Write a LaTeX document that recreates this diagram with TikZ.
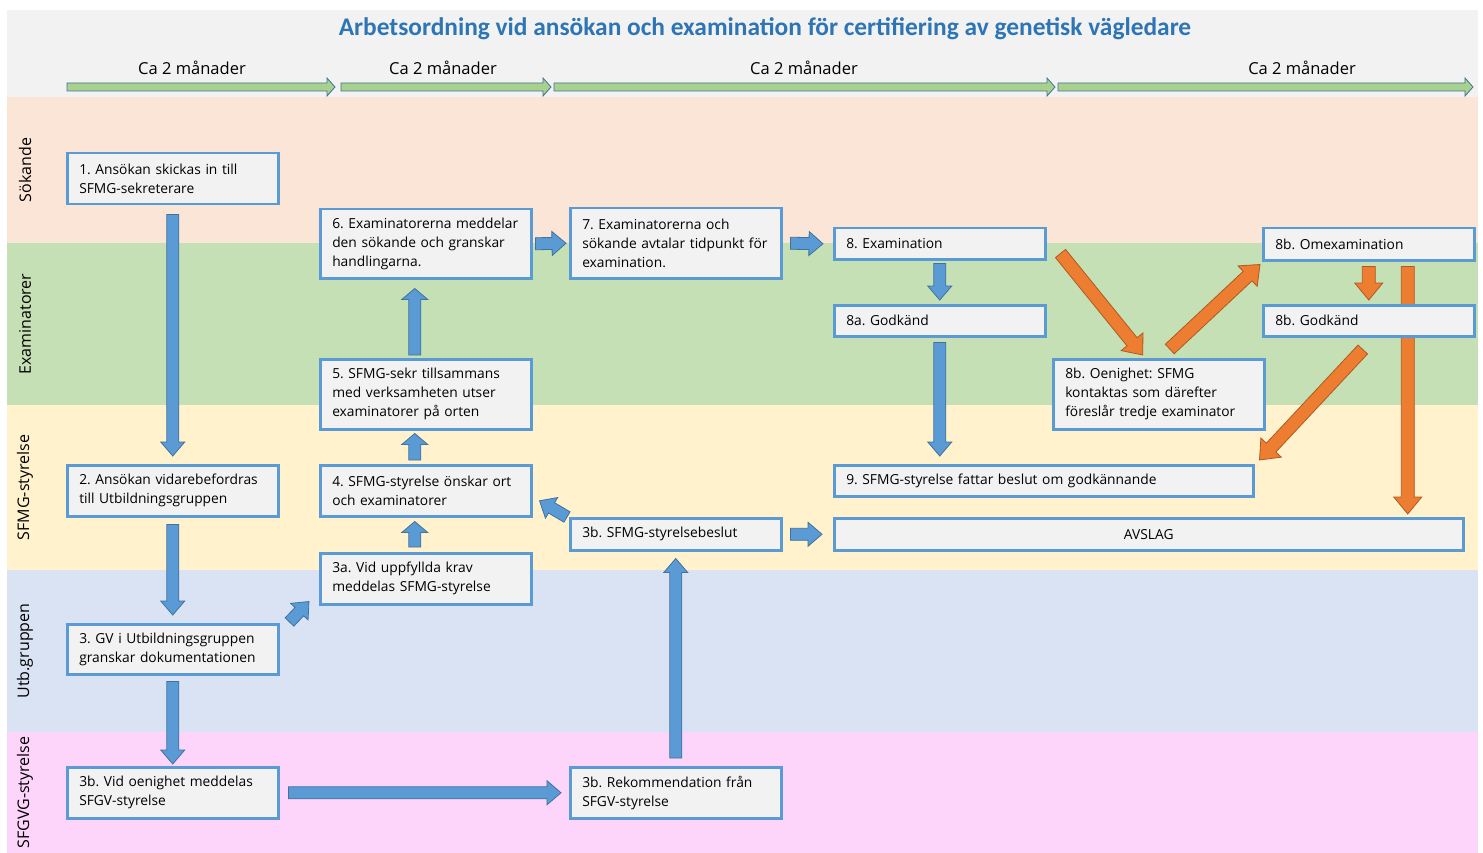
\documentclass[tikz,border=0pt]{standalone}
\usepackage{fontspec}
\setmainfont{Open Sans}
\newfontfamily\titlefont{Carlito}
\usetikzlibrary{calc}
\frenchspacing
\hyphenpenalty=10000
\exhyphenpenalty=10000

\definecolor{headgray}{HTML}{F2F2F2}
\definecolor{lanesok}{HTML}{FBE5D6}
\definecolor{laneexa}{HTML}{C5E0B4}
\definecolor{lanesfmg}{HTML}{FFF2CC}
\definecolor{laneutb}{HTML}{DAE3F3}
\definecolor{lanesfgv}{HTML}{FDD5FA}
\definecolor{boxblue}{HTML}{5B9BD5}
\definecolor{boxfill}{HTML}{F2F2F2}
\definecolor{arrblue}{HTML}{5B9BD5}
\definecolor{arrline}{HTML}{41719C}
\definecolor{arrorange}{HTML}{ED7D31}
\definecolor{arrorangeline}{HTML}{AE5A21}
\definecolor{arrgreen}{HTML}{A9D18E}
\definecolor{titleblue}{HTML}{2E75B6}

\pgfdeclarelayer{lanes}
\pgfdeclarelayer{arrows}
\pgfsetlayers{lanes,arrows,main}

% block arrow: shaft half width, head half width, head length
\def\bsw{6pt}\def\bhw{12pt}\def\bhl{14pt}
\newcommand\blockarrow[3][blue arrow]{%
  \draw[#1] (#2) coordinate (ba-s) (#3) coordinate (ba-e)
    ($(ba-e)!\bhl!(ba-s)$) coordinate (ba-h)
    ($(ba-s)!\bsw!90:(ba-e)$) -- ($(ba-h)!\bsw!90:(ba-e)$) -- ($(ba-h)!\bhw!90:(ba-e)$)
    -- (ba-e) -- ($(ba-h)!\bhw!-90:(ba-e)$) -- ($(ba-h)!\bsw!-90:(ba-e)$)
    -- ($(ba-s)!\bsw!-90:(ba-e)$) -- cycle;}

\begin{document}
\begin{tikzpicture}[x=1pt,y=-1pt,
  main box/.style={draw=boxblue,line width=2.5pt,fill=boxfill,anchor=north west,minimum width=211pt,
    text width=187pt,inner xsep=12pt,inner ysep=2pt,align=left,font=\fontsize{13.8}{19}\selectfont},
  lane label/.style={rotate=90,font=\fontsize{16}{18}\selectfont},
  period/.style={font=\fontsize{16.5}{18}\selectfont},
  blue arrow/.style={fill=arrblue,draw=arrline,line width=0.8pt},
  small arrow/.style={blue arrow,/utils/exec={\def\bhw{13pt}\def\bhl{11pt}}},
  orange arrow/.style={fill=arrorange,draw=arrorangeline,line width=0.8pt,
    /utils/exec={\def\bsw{6.5pt}\def\bhw{14pt}\def\bhl{17pt}}},
  time arrow/.style={fill=arrgreen,draw=arrline,line width=0.8pt,
    /utils/exec={\def\bsw{4pt}\def\bhw{9pt}\def\bhl{8pt}}}]
  \useasboundingbox (0,0) rectangle (1483,853);

  \begin{pgfonlayer}{lanes}
    \fill[headgray] (7,10) rectangle (1478,97);
    \foreach \ya/\yb/\col/\lab [count=\i] in {97/243/lanesok/Sökande, 243/405/laneexa/Examinatorer,
        405/570/lanesfmg/SFMG-styrelse, 570/732/laneutb/Utb.gruppen, 732/853/lanesfgv/SFGVG-styrelse}{
      \fill[\col] (7,\ya) rectangle (1478,\yb);
      \node[lane label] (lane\i) at (25,{(\ya+\yb)/2}) {\lab};
    }
  \end{pgfonlayer}

  \node[font=\titlefont\fontsize{25.4}{28}\selectfont\bfseries,text=titleblue] (title) at (765,29)
    {Arbetsordning vid ansökan och examination för certifiering av genetisk vägledare};
  \foreach \xa/\xb/\xl [count=\i] in {67/335/192, 341/551/443, 554/1055/804, 1058/1473/1302}{
    \blockarrow[time arrow]{\xa,87}{\xb,87}
    \node[period] (per\i) at (\xl,68) {Ca 2 månader};
  }

  \node[main box,minimum height=51pt] (b1) at (66,152) {1. Ansökan skickas in till\\SFMG-sekreterare};
  \node[main box,minimum height=51pt] (b2) at (66,464) {2. Ansökan vidarebefordras\\till Utbildningsgruppen};
  \node[main box,minimum height=50pt] (b3) at (66,623) {3. GV i Utbildningsgruppen\\granskar dokumentationen};
  \node[main box,minimum height=51pt] (b3bv) at (66,766) {3b. Vid oenighet meddelas\\SFGV-styrelse};
  \node[main box,minimum height=69pt] (b6) at (319,208) {6. Examinatorerna meddelar\\den sökande och granskar\\handlingarna.};
  \node[main box,minimum height=70pt] (b5) at (319,358) {5. SFMG-sekr tillsammans\\med verksamheten utser\\examinatorer på orten};
  \node[main box,minimum height=51pt] (b4) at (319,464) {4. SFMG-styrelse önskar ort\\och examinatorer};
  \node[main box,minimum height=51pt] (b3a) at (319,552) {3a. Vid uppfyllda krav\\meddelas SFMG-styrelse};
  \node[main box,minimum height=70pt] (b7) at (569,207) {7. Examinatorerna och\\sökande avtalar tidpunkt för\\examination.};
  \node[main box,minimum height=32pt] (b3bs) at (569,517) {3b. SFMG-styrelsebeslut};
  \node[main box,minimum height=51pt] (b3br) at (569,766) {3b. Rekommendation från\\SFGV-styrelse};
  \node[main box,minimum height=31pt] (b8) at (833,227) {8. Examination};
  \node[main box,minimum height=31pt] (b8a) at (833,304) {8a. Godkänd};
  \node[main box,minimum height=31pt,minimum width=419pt,text width=395pt] (b9) at (833,464)
    {9. SFMG-styrelse fattar beslut om godkännande};
  \node[main box,minimum height=32pt,minimum width=629pt,text width=605pt,align=center] (bA) at (833,517) {AVSLAG};
  \node[main box,minimum height=70pt] (b8bo) at (1052,358) {8b. Oenighet: SFMG\\kontaktas som därefter\\föreslår tredje examinator};
  \node[main box,minimum height=32pt] (b8om) at (1262,227) {8b. Omexamination};
  \node[main box,minimum height=31pt] (b8g) at (1262,304) {8b. Godkänd};

  \begin{pgfonlayer}{arrows}
    \blockarrow{$(b1.south)+(0,9)$}{$(b2.north)+(0,-8)$}
    \blockarrow{$(b2.south)+(0,7)$}{$(b3.north)+(0,-8)$}
    \blockarrow{$(b3.south)+(0,6)$}{$(b3bv.north)+(0,-2)$}
    \blockarrow{$(b3.north east)+(10,-1)$}{$(b3a.south west)+(-10,-4)$}
    \blockarrow[small arrow]{$(b3a.north)+(-11,-5)$}{$(b4.south)+(-11,4)$}
    \blockarrow[small arrow]{$(b4.north)+(-11,-4)$}{$(b5.south)+(-11,3)$}
    \blockarrow[small arrow]{$(b5.north)+(-11,-3)$}{$(b6.south)+(-11,9)$}
    \blockarrow{$(b6.east)+(3,0)$}{$(b7.west)+(-3,0)$}
    \blockarrow{$(b7.east)+(8,0)$}{$(b8.west)+(-10,0)$}
    \blockarrow{$(b8.south)+(0,3)$}{$(b8a.north)+(0,-4)$}
    \blockarrow{$(b8a.south)+(0,5)$}{$(b8a.south |- b9.north)+(0,-8)$}
    \blockarrow{$(b3br.north)+(0,-8)$}{$(b3bs.south)+(0,7)$}
    \blockarrow{$(b3bs.north west)+(-2,0)$}{$(b4.east)+(7,10)$}
    \blockarrow{$(b3bs.east)+(8,0)$}{$(bA.west)+(-11,0)$}
    \blockarrow{$(b3bv.east)+(9,0)$}{$(b3br.west)+(-8,0)$}
    \blockarrow[orange arrow]{$(b8.south east)+(14,-7)$}{$(b8bo.north)+(-16,-3)$}
    \blockarrow[orange arrow]{$(b8bo.north)+(11,-9)$}{$(b8om.south west)+(-2,3)$}
    \blockarrow[orange arrow]{$(b8om.south)+(0,5)$}{$(b8g.north)+(0,-4)$}
    \blockarrow[orange arrow]{$(b8g.south)+(-6,12)$}{$(b9.north east)+(5,-4)$}
    \coordinate (omx) at ($(b8om.south)+(39,0)$);
    \blockarrow[orange arrow]{$(omx)+(0,5)$}{$(omx |- bA.north)+(0,-3)$}
  \end{pgfonlayer}
\end{tikzpicture}
\end{document}
